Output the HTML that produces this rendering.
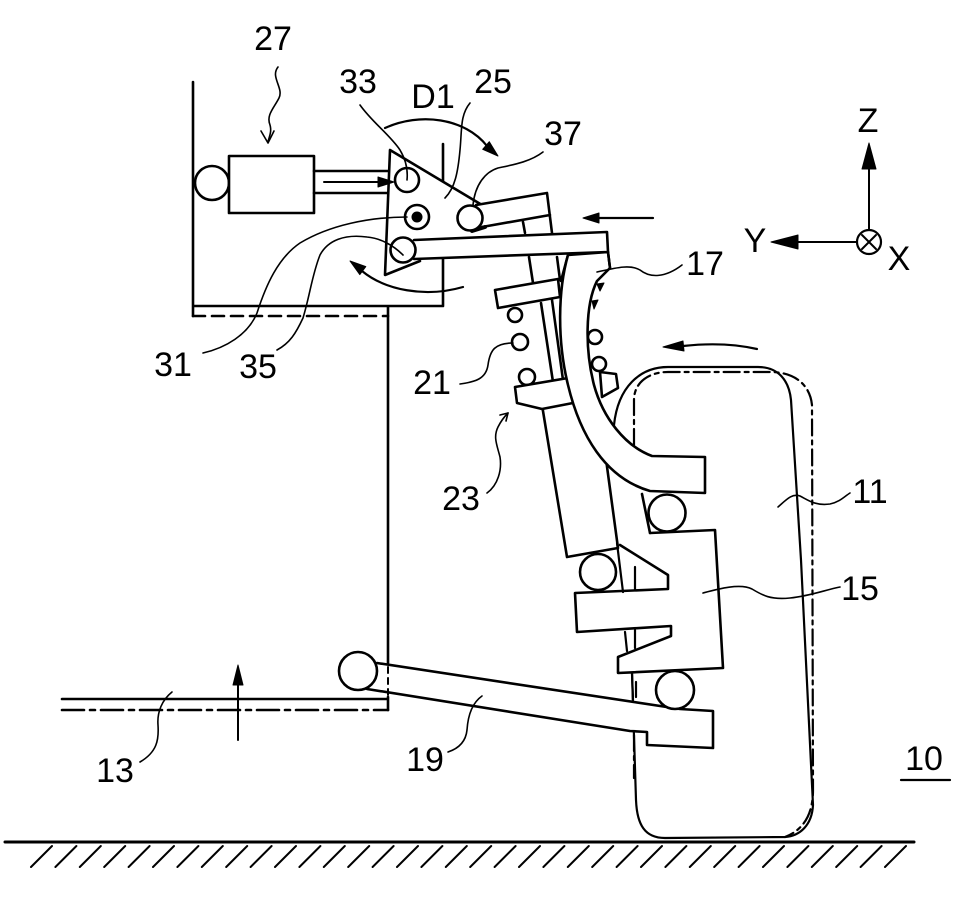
<!DOCTYPE html>
<html>
<head>
<meta charset="utf-8">
<style>
html,body{margin:0;padding:0;background:#fff;}
svg{display:block;}
text{font-family:"Liberation Sans",Arial,sans-serif;font-size:34px;fill:#000;text-anchor:middle;}
</style>
</head>
<body>
<svg width="961" height="900" viewBox="0 0 961 900" xmlns="http://www.w3.org/2000/svg">
<rect width="961" height="900" fill="#fff"/>
<g stroke="#000" stroke-width="2.6" fill="none" stroke-linejoin="round" stroke-linecap="round">

<!-- ground -->
<line x1="5" y1="842" x2="914" y2="842" stroke-width="3"/>
<path stroke-width="2" d="M52,846L31,867M76.4,846L55.4,867M100.8,846L79.8,867M125.2,846L104.2,867M149.6,846L128.6,867M174,846L153,867M198.4,846L177.4,867M222.8,846L201.8,867M247.2,846L226.2,867M271.6,846L250.6,867M296,846L275,867M320.4,846L299.4,867M344.8,846L323.8,867M369.2,846L348.2,867M393.6,846L372.6,867M418,846L397,867M442.4,846L421.4,867M466.8,846L445.8,867M491.2,846L470.2,867M515.6,846L494.6,867M540,846L519,867M564.4,846L543.4,867M588.8,846L567.8,867M613.2,846L592.2,867M637.6,846L616.6,867M662,846L641,867M686.4,846L665.4,867M710.8,846L689.8,867M735.2,846L714.2,867M759.6,846L738.6,867M784,846L763,867M808.4,846L787.4,867M832.8,846L811.8,867M857.2,846L836.2,867M881.6,846L860.6,867M906,846L885,867"/>

<!-- wheel -->
<path stroke-width="2.2" d="M632,673 L636,800 C637,825 645,838 665,838 L785,837 C800,836 812,825 813,805 L801,560 L791,400 C789,380 778,367 758,367 L668,367 C640,367 618,387 614,425"/>
<path stroke-width="2.2" stroke-dasharray="16 5 4 5" d="M634,445 L634,400 C634,383 648,372 668,372 L770,372 C795,372 810,385 812,405 L813,790 C813,815 803,830 785,837"/>
<path stroke-width="2.2" stroke-dasharray="16 5 4 5" d="M634,735 L634,778"/>

<!-- body -->
<path d="M193,82 L193,316 M193,306 L443,306 M443,144 L443,306 M388,306 L388,663 M388,697 L388,710 M62,699 L388,699"/>
<path stroke-dasharray="12 7" d="M193,316 L388,316"/>
<path stroke-dasharray="22 6 5 6" d="M62,710 L388,710"/>

<!-- lower arm 19 -->
<polygon fill="#fff" stroke="none" points="360,660 680,709 713,711 713,748 647,745 647,732 630,731 360,688"/>
<polyline points="377,663 680,709 713,711 713,748 647,745 647,732 630,731 367,689"/>
<circle cx="358" cy="671" r="19" fill="#fff"/>
<path stroke-width="2" stroke-dasharray="6 5" d="M388,667 L388,696"/>

<!-- strut upper mount -->
<path d="M529,257 L533,283 M557,257 L560,280 M568,255 L561,281"/>
<!-- rod -->
<path d="M541,303 L553,382 M552,300 L563,380"/>
<!-- left coils -->
<circle cx="515" cy="315" r="7" fill="#fff"/>
<circle cx="520" cy="342" r="8" fill="#fff"/>
<circle cx="527" cy="377" r="8" fill="#fff"/>
<!-- upper seat -->
<polygon fill="#fff" points="495,290 558,279 560,297 498,308"/>
<!-- cylinder -->
<polygon fill="#fff" points="542,405 567,557 618,548 598,400"/>
<!-- lower seat -->
<polygon fill="#fff" points="515,387 568,378 573,403 542,409 517,403"/>
<!-- right coil pieces -->
<circle cx="595" cy="337" r="7" fill="#fff"/>
<circle cx="599" cy="364" r="7" fill="#fff"/>
<polygon fill="#fff" points="600,372 616,374 618,388 602,397"/>
<polygon fill="#000" stroke-width="1" points="597,284 604,283 600,291"/>
<polygon fill="#000" stroke-width="1" points="592,301 598,300 594,309"/>

<!-- knuckle 15 -->
<polygon fill="#fff" stroke="none" points="642,495 650,533 715,530 723,668 618,673 618,657 671,636 671,626 577,632 575,593 668,589 668,575 620,545"/>
<polyline points="650,533 715,530 723,668 618,673 618,657 671,636 671,626 577,632 575,593 668,589 668,575 620,545"/>
<path d="M642,494 L650,533"/>
<path stroke-width="2.2" d="M617,543 L623,592 M635,567 L635,590 M625,632 L627,651 M635,630 L635,648 M632,673 L633,700 M636,682 L636,697"/>

<!-- band 17 -->
<path fill="#fff" d="M568,255 C558,290 557,340 568,385 C580,435 605,478 650,491 L705,493 L705,457 L652,456 C625,446 603,418 594,385 C585,350 585,305 597,281 L610,268 L608,252 Z"/>

<!-- ball joints -->
<circle cx="598" cy="572" r="18" fill="#fff"/>
<circle cx="667" cy="513" r="18.5" fill="#fff"/>
<circle cx="675" cy="690" r="19" fill="#fff"/>

<!-- actuator 27 -->
<circle cx="212" cy="183" r="17" fill="#fff"/>
<rect x="229" y="156" width="85" height="57" fill="#fff"/>
<path d="M314,171 L398,171 M314,193 L398,193"/>

<!-- triangle 25 -->
<polygon fill="#fff" stroke="none" points="390,150 482,205 482,232 418,262 385,275"/>
<path d="M390,150 L482,205 M390,150 L385,275 L420,261"/>

<!-- arm 37 -->
<polygon fill="#fff" stroke="none" points="472,206 547,193 552,234 472,236"/>
<path d="M476,205 L547,193 L552,233 M482,227 L550,215 M523,222 L525,233"/>
<path stroke-width="4" d="M472,231 L485,227"/>

<!-- long link -->
<polygon fill="#fff" stroke="none" points="403,241 607,232 608,252 403,260"/>
<polyline points="414,240 607,232 608,252 414,259"/>
<path d="M608,252 L610,268"/>

<!-- pivot circles -->
<circle cx="407" cy="180" r="12" fill="#fff"/>
<circle cx="417" cy="217" r="12" fill="#fff"/>
<circle cx="417" cy="217" r="5.5" fill="#000" stroke="none"/>
<circle cx="470" cy="218" r="12.5" fill="#fff"/>
<circle cx="403" cy="250" r="12.5" fill="#fff"/>

<!-- arrows -->
<path stroke-width="2" d="M324,182 L380,182"/>
<polygon fill="#000" stroke-width="1" points="394,182 378,177 378,187"/>
<path stroke-width="2.2" d="M385,128 C420,112 465,118 487,146"/>
<polygon fill="#000" stroke-width="1" points="498,156 482.7,149.3 489.3,141.7"/>
<path stroke-width="2.2" d="M463,287 C425,298 385,290 362,271"/>
<polygon fill="#000" stroke-width="1" points="350,261 365.8,266.6 359.8,274.6"/>
<path stroke-width="2.2" d="M653,218 L598,218"/>
<polygon fill="#000" stroke-width="1" points="583,218 599,213 599,223"/>
<path stroke-width="2.2" d="M757,349 C735,344 710,343 683,346"/>
<polygon fill="#000" stroke-width="1" points="663,347 683,341 684,351"/>
<path stroke-width="2" d="M238,740 L238,684"/>
<polygon fill="#000" stroke-width="1" points="238,665 233,685 243,685"/>

<!-- axes -->
<path stroke-width="2" d="M869,169 L869,230"/>
<polygon fill="#000" stroke-width="1" points="869,143 862,169 876,169"/>
<path stroke-width="2" d="M798,242 L857,242"/>
<polygon fill="#000" stroke-width="1" points="771,242 798,235 798,249"/>
<circle cx="869" cy="242" r="12" stroke-width="2.2" fill="#fff"/>
<path stroke-width="2" d="M862,235 L876,249 M876,235 L862,249"/>

<!-- leaders -->
<g stroke-width="1.6">
<path d="M278,67 C270,77 284,88 279,98 C274,108 266,115 270,125 C272,132 269,137 268,142"/>
<path d="M261,131 L268,143 L274,131"/>
<path d="M360,105 C372,122 390,135 400,150 C406,160 408,170 407,180"/>
<path d="M470,103 C460,115 462,130 460,150 C458,172 455,188 445,198"/>
<path d="M543,152 C530,162 512,165 498,168 C485,172 475,185 473,205"/>
<path d="M407,217 C370,217 330,225 300,243 C278,258 266,285 257,313 C248,335 225,348 203,353"/>
<path d="M403,255 C393,245 380,238 367,237 C345,234 328,240 320,255 C312,275 310,295 303,318 C296,333 290,343 277,350"/>
<path d="M597,272 C615,268 630,264 640,270 C650,278 665,278 682,265"/>
<path d="M460,384 C475,382 486,379 488,365 C490,350 495,343 513,343"/>
<path d="M487,493 C498,485 502,470 500,457 C497,445 493,437 498,427 C501,421 504,417 508,413"/>
<path d="M500,415 L508,413 L506,421"/>
<path d="M778,507 C786,500 792,493 800,496 C808,500 815,506 830,504 C840,502 845,496 850,493"/>
<path d="M703,593 C718,589 740,583 752,589 C762,595 770,600 790,598 C810,596 825,590 840,587"/>
<path d="M172,692 C162,700 157,712 158,725 C159,740 157,752 140,762"/>
<path d="M482,696 C472,703 468,715 467,730 C466,740 460,748 448,752"/>
</g>
<path stroke-width="2.2" d="M901,780 L950,780"/>
</g>

<!-- labels -->
<text x="273" y="50">27</text>
<text x="358" y="93">33</text>
<text x="433" y="108">D1</text>
<text x="493" y="93">25</text>
<text x="563" y="145">37</text>
<text x="868" y="132">Z</text>
<text x="755" y="252">Y</text>
<text x="899" y="270">X</text>
<text x="705" y="275">17</text>
<text x="173" y="376">31</text>
<text x="258" y="378">35</text>
<text x="432" y="394">21</text>
<text x="461" y="510">23</text>
<text x="870" y="503">11</text>
<text x="860" y="600">15</text>
<text x="115" y="782">13</text>
<text x="425" y="771">19</text>
<text x="924" y="770">10</text>
</svg>
</body>
</html>
